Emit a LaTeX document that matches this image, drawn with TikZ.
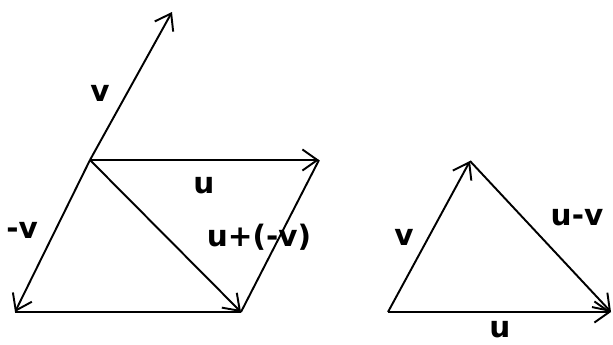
\documentclass[tikz,border=0pt]{standalone}
\usepackage{fontspec}
\setmainfont{DejaVu Sans}
\usetikzlibrary{arrows.meta}
\tikzset{
  vec/.style={line width=1.1pt, -{Straight Barb[length=8.5pt,width=12pt,line width=1.1pt]}},
  side/.style={line width=1.1pt},
  lbl/.style={font=\fontsize{16.8}{18}\selectfont\bfseries, inner sep=0pt}
}
\begin{document}
\begin{tikzpicture}[x=0.02cm, y=-0.02cm]
      \useasboundingbox (0,0) rectangle (613,345);
      % parallelogram
      \coordinate (O) at (90,160);
      \coordinate (V) at (172,12);
      \coordinate (A) at (15,312);
      \coordinate (B) at (241,312);
      \coordinate (C) at (319,160);
      \draw[vec] (O) -- (V);
      \draw[vec] (O) -- (A);
      \draw[vec] (O) -- (C);
      \draw[vec] (O) -- (B);
      \draw[side] (A) -- (B);
      \draw[side] (C) -- (B);
      \node[lbl] (lv) at (100,93) {v};
      \node[lbl] (lmv) at (22,230) {-v};
      \node[lbl] (lu) at (204,186) {u};
      \node[lbl] (lsum) at (259,237) {u+(-v)};
      % triangle
      \coordinate (P) at (388,312);
      \coordinate (Q) at (470,161);
      \coordinate (R) at (611,312);
      \draw[vec] (P) -- (Q);
      \draw[vec] (P) -- (R);
      \draw[vec] (Q) -- (R);
      \node[lbl] (tv) at (404,237) {v};
      \node[lbl] (tuv) at (577,218) {u-v};
      \node[lbl] (tu) at (500,330) {u};
    \end{tikzpicture}
\end{document}
